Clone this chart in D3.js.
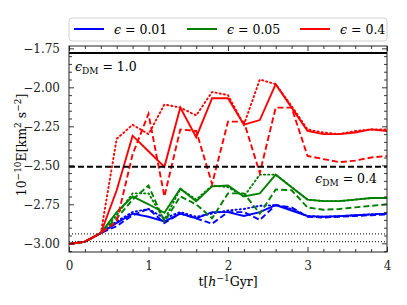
<!DOCTYPE html>
<html>
<head>
<meta charset="utf-8">
<script src="https://cdn.jsdelivr.net/npm/d3@7"></script>
<style>
body { margin: 0; background: #fff; }
</style>
</head>
<body>
<div id="chart"></div>
<script>
const width = 407;
const height = 305;
const margin = {top: 46, right: 20, bottom: 53, left: 69};
const serif = "'DejaVu Serif', serif";

// time samples (h^-1 Gyr)
const times = [0, 0.2, 0.4, 0.6, 0.8, 1.0, 1.2, 1.4, 1.6, 1.8, 2.0, 2.2, 2.4, 2.6, 2.8, 3.0, 3.2, 3.4, 3.6, 3.8, 4.0];

// eps = 0.01
const blueSolid  = [-3.005, -2.99, -2.935, -2.87, -2.81, -2.83, -2.86, -2.81, -2.84, -2.80, -2.80, -2.825, -2.80, -2.755, -2.79, -2.826, -2.83, -2.826, -2.82, -2.815, -2.81];
const blueDashed = [-3.005, -2.99, -2.935, -2.89, -2.82, -2.78, -2.87, -2.81, -2.84, -2.875, -2.80, -2.80, -2.85, -2.755, -2.77, -2.83, -2.835, -2.83, -2.825, -2.82, -2.815];
const blueDotted = [-3.005, -2.99, -2.935, -2.86, -2.80, -2.78, -2.84, -2.80, -2.83, -2.81, -2.79, -2.78, -2.76, -2.755, -2.78, -2.825, -2.83, -2.826, -2.82, -2.815, -2.81];

// eps = 0.05
const greenSolid  = [-3.005, -2.99, -2.935, -2.80, -2.70, -2.75, -2.805, -2.65, -2.73, -2.635, -2.63, -2.70, -2.68, -2.56, -2.64, -2.72, -2.73, -2.73, -2.72, -2.71, -2.71];
const greenDashed = [-3.005, -2.99, -2.935, -2.84, -2.72, -2.63, -2.86, -2.70, -2.75, -2.84, -2.68, -2.68, -2.81, -2.655, -2.66, -2.77, -2.785, -2.78, -2.77, -2.76, -2.75];
const greenDotted = [-3.005, -2.99, -2.935, -2.82, -2.68, -2.68, -2.85, -2.65, -2.72, -2.63, -2.64, -2.70, -2.56, -2.56, -2.64, -2.72, -2.73, -2.73, -2.72, -2.71, -2.71];

// eps = 0.4
const redSolid  = [-3.005, -2.99, -2.935, -2.66, -2.31, -2.41, -2.51, -2.13, -2.32, -2.07, -2.07, -2.24, -2.21, -1.98, -2.13, -2.28, -2.30, -2.30, -2.29, -2.27, -2.28];
const redDashed = [-3.005, -2.99, -2.935, -2.86, -2.43, -2.17, -2.70, -2.27, -2.28, -2.62, -2.22, -2.22, -2.55, -2.13, -2.13, -2.44, -2.46, -2.48, -2.47, -2.45, -2.44];
const redDotted = [-3.005, -2.99, -2.935, -2.33, -2.24, -2.30, -2.11, -2.13, -2.18, -2.03, -2.05, -2.24, -1.95, -1.98, -2.12, -2.27, -2.29, -2.30, -2.28, -2.27, -2.27];

// horizontal reference levels
const dm10Level = -1.78;
const dm04Level = -2.51;
const startLevels = [-2.94, -2.99];

const xTicks = [0, 1, 2, 3, 4];
const yTicks = [-3.00, -2.75, -2.50, -2.25, -2.00, -1.75];
const legendLabels = ["0.01", "0.05", "0.4"];
const colors = ["#0000ff", "#008000", "#ff0000"];

const series = [
    {values: blueSolid, color: colors[0], dash: null},
    {values: blueDashed, color: colors[0], dash: "6,3"},
    {values: blueDotted, color: colors[0], dash: "1.2,3"},
    {values: greenSolid, color: colors[1], dash: null},
    {values: greenDashed, color: colors[1], dash: "6,3"},
    {values: greenDotted, color: colors[1], dash: "1.2,3"},
    {values: redSolid, color: colors[2], dash: null},
    {values: redDashed, color: colors[2], dash: "6,3"},
    {values: redDotted, color: colors[2], dash: "1.2,3"}
];

const svg = d3.select("#chart").append("svg")
    .attr("width", width)
    .attr("height", height)
    .style("font-family", serif);

const x = d3.scaleLinear().domain([0, 4]).range([margin.left, width - margin.right]);
const y = d3.scaleLinear().domain([-3.056, -1.735]).range([height - margin.bottom, margin.top]);

svg.append("defs").append("clipPath")
    .attr("id", "clip")
    .append("rect")
    .attr("x", margin.left)
    .attr("y", margin.top)
    .attr("width", x.range()[1] - margin.left)
    .attr("height", y.range()[0] - margin.top);

const plot = svg.append("g").attr("clip-path", "url(#clip)");

const line = d3.line()
    .x((d, i) => x(times[i]))
    .y(d => y(d));

plot.selectAll(".series")
    .data(series)
    .enter().append("path")
    .attr("class", "series")
    .attr("d", d => line(d.values))
    .attr("fill", "none")
    .attr("stroke", d => d.color)
    .attr("stroke-width", 1.9)
    .attr("stroke-linecap", d => d.dash && d.dash.startsWith("1.2") ? "round" : "butt")
    .attr("stroke-dasharray", d => d.dash);

// reference lines
plot.append("line")
    .attr("x1", x(0)).attr("x2", x(4))
    .attr("y1", y(dm10Level)).attr("y2", y(dm10Level))
    .attr("stroke", "#000").attr("stroke-width", 2);

plot.append("line")
    .attr("x1", x(0)).attr("x2", x(4))
    .attr("y1", y(dm04Level)).attr("y2", y(dm04Level))
    .attr("stroke", "#000").attr("stroke-width", 2)
    .attr("stroke-dasharray", "6,3");

plot.selectAll(".start")
    .data(startLevels)
    .enter().append("line")
    .attr("x1", x(0)).attr("x2", x(4))
    .attr("y1", d => y(d)).attr("y2", d => y(d))
    .attr("stroke", "#000").attr("stroke-width", 1)
    .attr("stroke-dasharray", "1,2");

// axes with inward ticks on all sides
const xMinor = x.ticks(20).filter(t => !xTicks.includes(t));
const yMinor = d3.range(-3.05, -1.73, 0.05).filter(t => yTicks.every(m => Math.abs(m - t) > 1e-6));

function addAxis(axis, transform) {
    const g = svg.append("g").attr("transform", transform).call(axis);
    g.attr("font-family", null).attr("font-size", null);
    g.select(".domain").remove();
    g.selectAll("line").attr("stroke", "#222").attr("stroke-width", 0.9);
    g.selectAll("text").style("font-size", "12px").style("font-family", serif).attr("fill", "#222");
    return g;
}

const bottomY = y.range()[0];
const topY = margin.top;
const leftX = margin.left;
const rightX = x.range()[1];

addAxis(d3.axisBottom(x).tickValues(xTicks).tickSize(-5).tickPadding(9).tickFormat(d3.format("d")), `translate(0,${bottomY})`);
addAxis(d3.axisBottom(x).tickValues(xMinor).tickSize(-3).tickFormat(""), `translate(0,${bottomY})`);
addAxis(d3.axisTop(x).tickValues(xTicks).tickSize(-5).tickFormat(""), `translate(0,${topY})`);
addAxis(d3.axisTop(x).tickValues(xMinor).tickSize(-3).tickFormat(""), `translate(0,${topY})`);

addAxis(d3.axisLeft(y).tickValues(yTicks).tickSize(-5).tickPadding(9).tickFormat(d => d3.format(".2f")(d).replace("-", "\u2212")), `translate(${leftX},0)`);
addAxis(d3.axisLeft(y).tickValues(yMinor).tickSize(-3).tickFormat(""), `translate(${leftX},0)`);
addAxis(d3.axisRight(y).tickValues(yTicks).tickSize(-5).tickFormat(""), `translate(${rightX},0)`);
addAxis(d3.axisRight(y).tickValues(yMinor).tickSize(-3).tickFormat(""), `translate(${rightX},0)`);

svg.append("rect")
    .attr("x", leftX).attr("y", topY)
    .attr("width", rightX - leftX).attr("height", bottomY - topY)
    .attr("fill", "none").attr("stroke", "#222").attr("stroke-width", 1);

// axis labels
const xLabel = svg.append("text")
    .attr("x", (leftX + rightX) / 2)
    .attr("y", 286)
    .attr("text-anchor", "middle")
    .style("font-size", "12.5px");
xLabel.append("tspan").text("t[");
xLabel.append("tspan").style("font-style", "italic").text("h");
xLabel.append("tspan").attr("dy", -5).style("font-size", "9px").text("\u22121");
xLabel.append("tspan").attr("dy", 5).text("Gyr]");

const yLabel = svg.append("text")
    .attr("transform", `translate(26,${(topY + bottomY) / 2 - 4}) rotate(-90)`)
    .attr("text-anchor", "middle")
    .style("font-size", "12.5px");
yLabel.append("tspan").text("10");
yLabel.append("tspan").attr("dy", -5).style("font-size", "9px").text("\u221210");
yLabel.append("tspan").attr("dy", 5).text("E[km");
yLabel.append("tspan").attr("dy", -5).style("font-size", "9px").text("2");
yLabel.append("tspan").attr("dy", 5).text(" s");
yLabel.append("tspan").attr("dy", -5).style("font-size", "9px").text("\u22122");
yLabel.append("tspan").attr("dy", 5).text("]");

// annotations
function epsDM(xPos, yPos, value, anchor) {
    const t = svg.append("text")
        .attr("x", xPos).attr("y", yPos)
        .attr("text-anchor", anchor)
        .style("font-size", "12.5px");
    t.append("tspan").style("font-style", "italic").text("\u03f5");
    t.append("tspan").attr("dy", 3).style("font-size", "9px").text("DM");
    t.append("tspan").attr("dy", -3).text(" = " + value);
}
epsDM(75, 71, "1.0", "start");
epsDM(377, 183, "0.4", "end");

// legend
const legend = svg.append("g");
legend.append("rect")
    .attr("x", 69).attr("y", 18)
    .attr("width", 318).attr("height", 23)
    .attr("rx", 3)
    .attr("fill", "#fff")
    .attr("stroke", "#d0d0d0");

const legendX = [74, 187, 300];
legendLabels.forEach((lab, i) => {
    legend.append("line")
        .attr("x1", legendX[i]).attr("x2", legendX[i] + 30)
        .attr("y1", 29).attr("y2", 29)
        .attr("stroke", colors[i]).attr("stroke-width", 2);
    const t = legend.append("text")
        .attr("x", legendX[i] + 40).attr("y", 34)
        .style("font-size", "12.5px");
    t.append("tspan").style("font-style", "italic").text("\u03f5");
    t.append("tspan").text(" = " + lab);
});
</script>
</body>
</html>
